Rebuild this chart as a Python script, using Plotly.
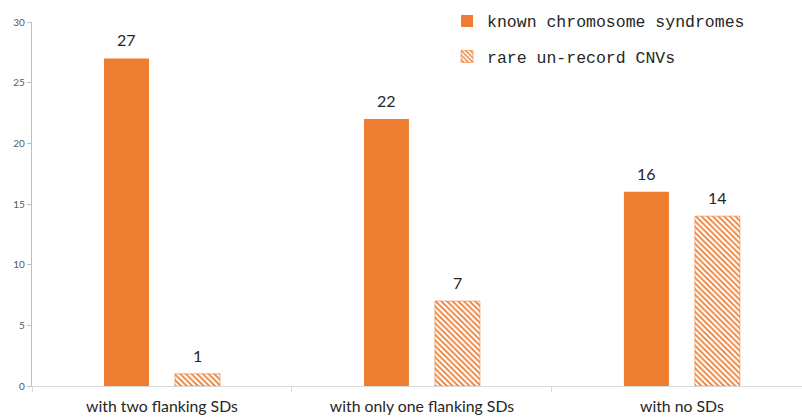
import plotly.graph_objects as go

categories = ["with two flanking SDs", "with only one flanking SDs", "with no SDs"]
known_syndromes = [27, 22, 16]
rare_cnvs = [1, 7, 14]
series_names = ["known chromosome syndromes", "rare un-record CNVs"]
y_ticks = [0, 5, 10, 15, 20, 25, 30]

ORANGE = "#ED7D31"
W, H = 802, 418
BAR_W = 0.173
OFFSETS = [-0.223, 0.05]  # left edge of each series' bar, relative to category centre

fig = go.Figure()
fig.add_trace(go.Bar(
    x=categories, y=known_syndromes, name=series_names[0],
    width=BAR_W, offset=OFFSETS[0],
    marker=dict(color=ORANGE, line=dict(width=0)),
    legendgroup="a",
))
fig.add_trace(go.Bar(
    x=categories, y=rare_cnvs, name=series_names[1],
    width=BAR_W, offset=OFFSETS[1],
    marker=dict(
        color="white",
        line=dict(color=ORANGE, width=0.6),
        pattern=dict(shape="\\", fgcolor=ORANGE, bgcolor="white",
                     size=4, solidity=0.45, fillmode="replace"),
    ),
    legendgroup="b",
))

# value labels above each bar
for vals, off in zip([known_syndromes, rare_cnvs], OFFSETS):
    for i, v in enumerate(vals):
        fig.add_annotation(
            x=i + off + BAR_W / 2, y=v, text=str(v), showarrow=False,
            xref="x", yref="y", yanchor="bottom", yshift=7,
            font=dict(family="Lato, Open Sans, sans-serif", size=16, color="#262626"),
        )

fig.update_layout(
    width=W, height=H, autosize=False,
    margin=dict(l=32, r=0, t=22, b=32),
    paper_bgcolor="white", plot_bgcolor="white",
    barmode="overlay",
    showlegend=True,
    legend=dict(
        x=0.539, y=1.05, xanchor="left", yanchor="top",
        bgcolor="rgba(0,0,0,0)",
        font=dict(family="Liberation Mono, monospace", size=16.5, color="#262626"),
        traceorder="grouped", tracegroupgap=11,
        itemwidth=30,
    ),
)

fig.update_xaxes(
    type="category", range=[-0.5, 2.462],
    showline=True, linecolor="#d9d9d9", linewidth=1,
    ticks="outside", tickson="boundaries", ticklen=5, tickcolor="#d9d9d9",
    showgrid=False, zeroline=False, ticklabelstandoff=6,
    tickfont=dict(family="Lato, Open Sans, sans-serif", size=15.8, color="#262626"),
)
fig.update_yaxes(
    range=[0, 30], tickvals=y_ticks,
    showline=True, linecolor="#bfbfbf", linewidth=1.2,
    ticks="outside", ticklen=4, tickcolor="#bfbfbf",
    showgrid=False, zeroline=False,
    tickfont=dict(family="Lato, Open Sans, sans-serif", size=10, color="#595959"),
)

fig.write_html("out.html")
